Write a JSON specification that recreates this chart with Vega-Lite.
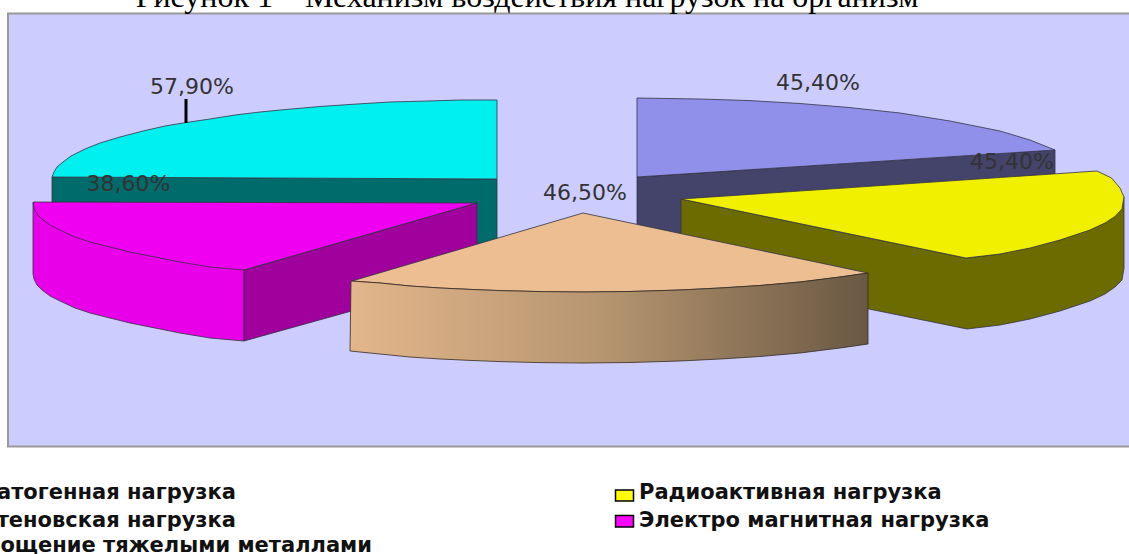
{"$schema":"https://vega.github.io/schema/vega-lite/v6.json","width":1129,"height":554,"padding":0,"autosize":{"type":"none"},"background":"white","view":{"stroke":null},
"datasets":{
"panel":[{"x":8,"x2":1135,"y":13.5,"y2":446.5}],
"swatches":[{"x":615.5,"x2":633.5,"y":490,"y2":501,"c":"#ffff00"},{"x":615.5,"x2":633.5,"y":515.5,"y2":527,"c":"#ff00ff"}],
"poly":[
{"s":"a_cyanside","i":1,"x":52,"y":177},{"s":"a_cyanside","i":2,"x":497,"y":179},{"s":"a_cyanside","i":3,"x":497,"y":240},{"s":"a_cyanside","i":4,"x":477,"y":246},{"s":"a_cyanside","i":5,"x":52,"y":246},{"s":"a_cyanside","i":6,"x":52,"y":177},
{"s":"b_cyan","i":1,"x":497,"y":100},{"s":"b_cyan","i":2,"x":460,"y":100},{"s":"b_cyan","i":3,"x":428,"y":101},{"s":"b_cyan","i":4,"x":390,"y":102},{"s":"b_cyan","i":5,"x":357,"y":104},{"s":"b_cyan","i":6,"x":320,"y":106.5},{"s":"b_cyan","i":7,"x":286,"y":109.5},{"s":"b_cyan","i":8,"x":260,"y":112},{"s":"b_cyan","i":9,"x":235,"y":115},{"s":"b_cyan","i":10,"x":210,"y":119},{"s":"b_cyan","i":11,"x":186,"y":122.5},{"s":"b_cyan","i":12,"x":165,"y":126},{"s":"b_cyan","i":13,"x":143,"y":131},{"s":"b_cyan","i":14,"x":120,"y":137},{"s":"b_cyan","i":15,"x":100,"y":143},{"s":"b_cyan","i":16,"x":85,"y":149},{"s":"b_cyan","i":17,"x":71,"y":156},{"s":"b_cyan","i":18,"x":63,"y":162},{"s":"b_cyan","i":19,"x":57,"y":167},{"s":"b_cyan","i":20,"x":54,"y":172},{"s":"b_cyan","i":21,"x":52,"y":177},{"s":"b_cyan","i":22,"x":497,"y":179},{"s":"b_cyan","i":23,"x":497,"y":100},
{"s":"c_periside","i":1,"x":637,"y":177},{"s":"c_periside","i":2,"x":1055,"y":150},{"s":"c_periside","i":3,"x":1055,"y":180},{"s":"c_periside","i":4,"x":681,"y":238},{"s":"c_periside","i":5,"x":637,"y":226},{"s":"c_periside","i":6,"x":637,"y":177},
{"s":"d_peri","i":1,"x":637,"y":98},{"s":"d_peri","i":2,"x":700,"y":99},{"s":"d_peri","i":3,"x":750,"y":100.6},{"s":"d_peri","i":4,"x":800,"y":103.5},{"s":"d_peri","i":5,"x":850,"y":107.6},{"s":"d_peri","i":6,"x":900,"y":113},{"s":"d_peri","i":7,"x":950,"y":121},{"s":"d_peri","i":8,"x":1000,"y":131},{"s":"d_peri","i":9,"x":1030,"y":140},{"s":"d_peri","i":10,"x":1055,"y":150},{"s":"d_peri","i":11,"x":637,"y":177},{"s":"d_peri","i":12,"x":637,"y":98},
{"s":"e_magside","i":1,"x":33,"y":203},{"s":"e_magside","i":2,"x":244,"y":270},{"s":"e_magside","i":3,"x":244,"y":341},{"s":"e_magside","i":4,"x":210,"y":338},{"s":"e_magside","i":5,"x":180,"y":333},{"s":"e_magside","i":6,"x":155,"y":328},{"s":"e_magside","i":7,"x":130,"y":323},{"s":"e_magside","i":8,"x":110,"y":318},{"s":"e_magside","i":9,"x":90,"y":313},{"s":"e_magside","i":10,"x":75,"y":308},{"s":"e_magside","i":11,"x":60,"y":301},{"s":"e_magside","i":12,"x":50,"y":296},{"s":"e_magside","i":13,"x":42,"y":290},{"s":"e_magside","i":14,"x":37,"y":285},{"s":"e_magside","i":15,"x":34,"y":279},{"s":"e_magside","i":16,"x":33,"y":274},{"s":"e_magside","i":17,"x":33,"y":203},
{"s":"f_maginner","i":1,"x":244,"y":270},{"s":"f_maginner","i":2,"x":477,"y":203},{"s":"f_maginner","i":3,"x":477,"y":276},{"s":"f_maginner","i":4,"x":244,"y":341},{"s":"f_maginner","i":5,"x":244,"y":270},
{"s":"g_mag","i":1,"x":33,"y":202},{"s":"g_mag","i":2,"x":477,"y":203},{"s":"g_mag","i":3,"x":244,"y":270},{"s":"g_mag","i":4,"x":210,"y":267},{"s":"g_mag","i":5,"x":180,"y":262},{"s":"g_mag","i":6,"x":155,"y":257},{"s":"g_mag","i":7,"x":130,"y":252},{"s":"g_mag","i":8,"x":110,"y":247},{"s":"g_mag","i":9,"x":90,"y":242},{"s":"g_mag","i":10,"x":75,"y":237},{"s":"g_mag","i":11,"x":60,"y":230},{"s":"g_mag","i":12,"x":50,"y":225},{"s":"g_mag","i":13,"x":42,"y":219},{"s":"g_mag","i":14,"x":37,"y":214},{"s":"g_mag","i":15,"x":34,"y":208},{"s":"g_mag","i":16,"x":33,"y":202},
{"s":"h_yelside","i":1,"x":681,"y":199},{"s":"h_yelside","i":2,"x":966,"y":258},{"s":"h_yelside","i":3,"x":1000,"y":254},{"s":"h_yelside","i":4,"x":1060,"y":240},{"s":"h_yelside","i":5,"x":1105,"y":223},{"s":"h_yelside","i":6,"x":1124,"y":197},{"s":"h_yelside","i":7,"x":1124,"y":268},{"s":"h_yelside","i":8,"x":1122,"y":280},{"s":"h_yelside","i":9,"x":1115,"y":287},{"s":"h_yelside","i":10,"x":1105,"y":294},{"s":"h_yelside","i":11,"x":1090,"y":301},{"s":"h_yelside","i":12,"x":1060,"y":311},{"s":"h_yelside","i":13,"x":1030,"y":319},{"s":"h_yelside","i":14,"x":1000,"y":325},{"s":"h_yelside","i":15,"x":967,"y":329},{"s":"h_yelside","i":16,"x":869,"y":309},{"s":"h_yelside","i":17,"x":681,"y":270},{"s":"h_yelside","i":18,"x":681,"y":199},
{"s":"i_yel","i":1,"x":681,"y":199},{"s":"i_yel","i":2,"x":1097,"y":171},{"s":"i_yel","i":3,"x":1111.5,"y":178},{"s":"i_yel","i":4,"x":1120,"y":188},{"s":"i_yel","i":5,"x":1124,"y":197},{"s":"i_yel","i":6,"x":1122,"y":209},{"s":"i_yel","i":7,"x":1115,"y":216.5},{"s":"i_yel","i":8,"x":1105,"y":223},{"s":"i_yel","i":9,"x":1090,"y":230},{"s":"i_yel","i":10,"x":1060,"y":240},{"s":"i_yel","i":11,"x":1030,"y":248},{"s":"i_yel","i":12,"x":1000,"y":254},{"s":"i_yel","i":13,"x":966,"y":258},{"s":"i_yel","i":14,"x":681,"y":199},
{"s":"j_peach","i":1,"x":583,"y":213},{"s":"j_peach","i":2,"x":868,"y":273},{"s":"j_peach","i":3,"x":840,"y":277},{"s":"j_peach","i":4,"x":800,"y":282},{"s":"j_peach","i":5,"x":760,"y":285.5},{"s":"j_peach","i":6,"x":720,"y":288},{"s":"j_peach","i":7,"x":680,"y":290},{"s":"j_peach","i":8,"x":630,"y":291.5},{"s":"j_peach","i":9,"x":583,"y":292},{"s":"j_peach","i":10,"x":540,"y":291.6},{"s":"j_peach","i":11,"x":500,"y":290.6},{"s":"j_peach","i":12,"x":470,"y":289.4},{"s":"j_peach","i":13,"x":440,"y":288},{"s":"j_peach","i":14,"x":410,"y":286},{"s":"j_peach","i":15,"x":380,"y":283},{"s":"j_peach","i":16,"x":352,"y":281},{"s":"j_peach","i":17,"x":583,"y":213}
],
"peachside":[{"i":1,"x":351,"y":281},{"i":2,"x":380,"y":283},{"i":3,"x":410,"y":286},{"i":4,"x":440,"y":288},{"i":5,"x":470,"y":289.4},{"i":6,"x":500,"y":290.6},{"i":7,"x":540,"y":291.6},{"i":8,"x":583,"y":292},{"i":9,"x":630,"y":291.5},{"i":10,"x":680,"y":290},{"i":11,"x":720,"y":288},{"i":12,"x":760,"y":285.5},{"i":13,"x":800,"y":282},{"i":14,"x":840,"y":277},{"i":15,"x":868,"y":273},{"i":16,"x":868,"y":344},{"i":17,"x":840,"y":348},{"i":18,"x":800,"y":353},{"i":19,"x":760,"y":356.5},{"i":20,"x":720,"y":359},{"i":21,"x":680,"y":361},{"i":22,"x":630,"y":362.5},{"i":23,"x":583,"y":363},{"i":24,"x":540,"y":362.6},{"i":25,"x":500,"y":361.6},{"i":26,"x":470,"y":360.4},{"i":27,"x":440,"y":359},{"i":28,"x":410,"y":357},{"i":29,"x":380,"y":354},{"i":30,"x":350,"y":351},{"i":31,"x":351,"y":281}],
"leader":[{"x":186,"y":99,"y2":123}],
"labels":[{"x":192,"y":87,"t":"57,90%"},{"x":818,"y":83,"t":"45,40%"},{"x":1012,"y":162,"t":"45,40%"},{"x":585,"y":193,"t":"46,50%"},{"x":128.5,"y":184,"t":"38,60%"}],
"legendL":[{"x":236,"y":493,"t":"атогенная нагрузка"},{"x":236,"y":521,"t":"теновская нагрузка"},{"x":372,"y":546,"t":"ощение тяжелыми металлами"}],
"legendR":[{"x":639,"y":493,"t":"Радиоактивная нагрузка"},{"x":639,"y":521,"t":"Электро магнитная нагрузка"}],
"title":[{"x":527,"y":6.5,"t":"Рисунок 1 – Механизм воздействия нагрузок на организм"}]
},
"layer":[
{"data":{"name":"panel"},"mark":{"type":"rect","fill":"#ccccff","stroke":"#999999","strokeWidth":2},"encoding":{"x":{"field":"x","type":"quantitative","scale":{"domain":[0,1129],"nice":false,"zero":false},"axis":null},"x2":{"field":"x2"},"y":{"field":"y","type":"quantitative","scale":{"domain":[0,554],"reverse":true,"nice":false,"zero":false},"axis":null},"y2":{"field":"y2"}}},
{"data":{"name":"poly"},"mark":{"type":"line","stroke":"#333344","strokeWidth":0.8,"interpolate":"linear"},"encoding":{"x":{"field":"x","type":"quantitative","axis":null},"y":{"field":"y","type":"quantitative","axis":null},"order":{"field":"i","type":"quantitative"},"fill":{"field":"s","type":"nominal","legend":null,"scale":{"domain":["a_cyanside","b_cyan","c_periside","d_peri","e_magside","f_maginner","g_mag","h_yelside","i_yel","j_peach"],"range":["#006b6b","#00f0f0","#44436a","#9090ea","#e800e8","#a0009c","#f000f0","#6b6b00","#f0f000","#ecbe92"]}}}},
{"data":{"name":"peachside"},"mark":{"type":"line","stroke":"#332a20","strokeWidth":0.8,"interpolate":"linear","fill":{"gradient":"linear","x1":0,"y1":0,"x2":1,"y2":0,"stops":[{"offset":0,"color":"#e3b68c"},{"offset":0.5,"color":"#b4946f"},{"offset":1,"color":"#6a5843"}]}},"encoding":{"x":{"field":"x","type":"quantitative","axis":null},"y":{"field":"y","type":"quantitative","axis":null},"order":{"field":"i","type":"quantitative"}}},
{"data":{"name":"leader"},"mark":{"type":"rule","stroke":"#000000","strokeWidth":3},"encoding":{"x":{"field":"x","type":"quantitative","axis":null},"y":{"field":"y","type":"quantitative","axis":null},"y2":{"field":"y2"}}},
{"data":{"name":"labels"},"mark":{"type":"text","font":"DejaVu Sans","fontSize":22,"fill":"#333333","align":"center","baseline":"middle"},"encoding":{"x":{"field":"x","type":"quantitative","axis":null},"y":{"field":"y","type":"quantitative","axis":null},"text":{"field":"t"}}},
{"data":{"name":"legendL"},"mark":{"type":"text","font":"DejaVu Sans","fontWeight":"bold","fontSize":21,"fill":"#111111","align":"right","baseline":"middle"},"encoding":{"x":{"field":"x","type":"quantitative","axis":null},"y":{"field":"y","type":"quantitative","axis":null},"text":{"field":"t"}}},
{"data":{"name":"legendR"},"mark":{"type":"text","font":"DejaVu Sans","fontWeight":"bold","fontSize":21,"fill":"#111111","align":"left","baseline":"middle"},"encoding":{"x":{"field":"x","type":"quantitative","axis":null},"y":{"field":"y","type":"quantitative","axis":null},"text":{"field":"t"}}},
{"data":{"name":"swatches"},"mark":{"type":"rect","stroke":"#000000","strokeWidth":1.5},"encoding":{"x":{"field":"x","type":"quantitative","axis":null},"x2":{"field":"x2"},"y":{"field":"y","type":"quantitative","axis":null},"y2":{"field":"y2"},"fill":{"field":"c","type":"nominal","scale":null,"legend":null}}},
{"data":{"name":"title"},"mark":{"type":"text","font":"Liberation Serif","fontSize":32,"fill":"#000000","align":"center","baseline":"alphabetic"},"encoding":{"x":{"field":"x","type":"quantitative","axis":null},"y":{"field":"y","type":"quantitative","axis":null},"text":{"field":"t"}}}
],
"resolve":{"scale":{"fill":"independent"}}
}
